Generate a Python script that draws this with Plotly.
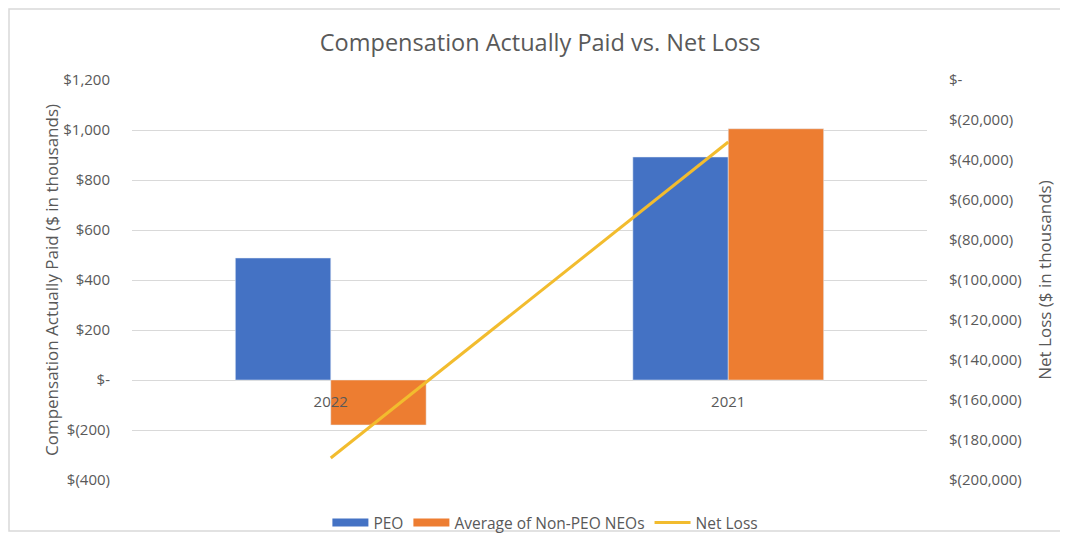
import plotly.graph_objects as go

years = ["2022", "2021"]
peo = [488, 892]
non_peo = [-180, 1005]
net_loss = [-189000, -31000]

left_ticks = [-400, -200, 0, 200, 400, 600, 800, 1000, 1200]
left_labels = ["$(400)", "$(200)", "$-", "$200", "$400", "$600", "$800", "$1,000", "$1,200"]
right_ticks = [-200000, -180000, -160000, -140000, -120000, -100000, -80000, -60000, -40000, -20000, 0]
right_labels = ["$(200,000)", "$(180,000)", "$(160,000)", "$(140,000)", "$(120,000)", "$(100,000)",
                "$(80,000)", "$(60,000)", "$(40,000)", "$(20,000)", "$-"]

FONT = "Open Sans"
GREY = "#595959"
BLUE = "#4472C4"
ORANGE = "#ED7D31"
GOLD = "#F2BC2E"

fig = go.Figure()
fig.add_trace(go.Bar(x=years, y=peo, name="PEO", marker_color=BLUE, yaxis="y", showlegend=False))
fig.add_trace(go.Bar(x=years, y=non_peo, name="Average of Non-PEO NEOs", marker_color=ORANGE,
                     yaxis="y", showlegend=False))
fig.add_trace(go.Scatter(x=years, y=net_loss, name="Net Loss", mode="lines",
                         line=dict(color=GOLD, width=3), yaxis="y2", showlegend=False))
# legend-only entries (wide rectangle swatches like the original)
fig.add_trace(go.Scatter(x=[None], y=[None], name="PEO", mode="lines",
                         line=dict(color=BLUE, width=8)))
fig.add_trace(go.Scatter(x=[None], y=[None], name="Average of Non-PEO NEOs", mode="lines",
                         line=dict(color=ORANGE, width=8)))
fig.add_trace(go.Scatter(x=[None], y=[None], name="Net Loss", mode="lines",
                         line=dict(color=GOLD, width=3)))

fig.update_layout(
    width=1060, height=535,
    paper_bgcolor="white", plot_bgcolor="white",
    margin=dict(l=124, r=141, t=72, b=63, autoexpand=False),
    font=dict(family=FONT, color=GREY, size=14),
    title=dict(text="Compensation Actually Paid vs. Net Loss", x=0.502, xanchor="center",
               y=0.935, yanchor="middle", font=dict(size=23.5, color=GREY)),
    barmode="group", bargap=0.52, bargroupgap=0,
    showlegend=True,
    legend=dict(orientation="h", x=0.52, xanchor="center", y=-0.065, yanchor="top",
                font=dict(size=15.5, color=GREY), traceorder="normal", itemwidth=36,
                bgcolor="rgba(0,0,0,0)"),
    xaxis=dict(type="category", anchor="free", position=0.25, showline=False, ticks="",
               showgrid=False, tickfont=dict(size=15, color=GREY), zeroline=False,
               ticklabelstandoff=11, automargin=False),
    yaxis=dict(range=[-400, 1200], tickvals=left_ticks, ticktext=left_labels,
               showgrid=True, gridcolor="#D9D9D9", gridwidth=1, zeroline=False,
               ticks="", showline=False, tickfont=dict(size=15, color=GREY),
               ticklabelstandoff=21, automargin=False,
               title=dict(text="Compensation Actually Paid ($ in thousands)",
                          font=dict(size=17, color=GREY), standoff=0)),
    yaxis2=dict(range=[-200000, 0], tickvals=right_ticks, ticktext=right_labels,
                overlaying="y", side="right", showgrid=False, zeroline=False,
                ticks="", showline=False, tickfont=dict(size=15, color=GREY),
                ticklabelstandoff=21, automargin=False,
                title=dict(text="Net Loss ($ in thousands)", font=dict(size=17, color=GREY),
                           standoff=18)),
    shapes=[dict(type="rect", xref="paper", yref="paper",
                 x0=-123 / 795, x1=1 + 200 / 795, y0=-51 / 400, y1=1 + 71 / 400,
                 line=dict(color="#D9D9D9", width=1.5), fillcolor="rgba(0,0,0,0)", layer="below")],
)

fig.write_html("out.html")
